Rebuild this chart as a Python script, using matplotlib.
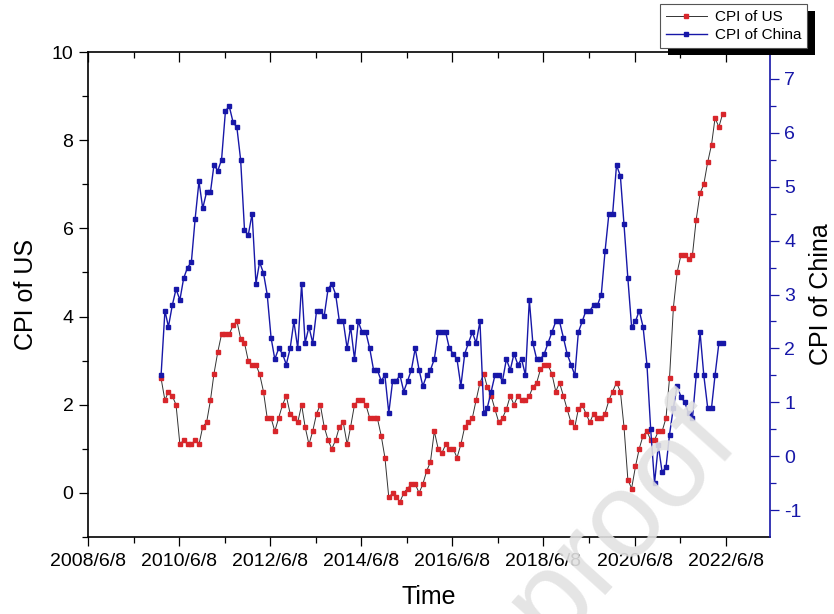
"""CPI of US vs CPI of China (monthly YoY, %), dual y axes. Saves out.png."""

import matplotlib
matplotlib.use("Agg")
import matplotlib.pyplot as plt  # noqa: E402
import pandas as pd  # noqa: E402
from matplotlib.patches import Rectangle  # noqa: E402

RED, BLUE = "#d8262b", "#1717a8"
plt.rcParams.update({"font.family": ["Liberation Sans", "DejaVu Sans"], "font.size": 14})

START, END = "2010-01-01", "2022-05-01"  # monthly, Jan 2010 .. May 2022

cpi_us = [
    2.6, 2.1, 2.3, 2.2, 2.0, 1.1, 1.2, 1.1, 1.1, 1.2, 1.1, 1.5,
    1.6, 2.1, 2.7, 3.2, 3.6, 3.6, 3.6, 3.8, 3.9, 3.5, 3.4, 3.0,
    2.9, 2.9, 2.7, 2.3, 1.7, 1.7, 1.4, 1.7, 2.0, 2.2, 1.8, 1.7,
    1.6, 2.0, 1.5, 1.1, 1.4, 1.8, 2.0, 1.5, 1.2, 1.0, 1.2, 1.5,
    1.6, 1.1, 1.5, 2.0, 2.1, 2.1, 2.0, 1.7, 1.7, 1.7, 1.3, 0.8,
    -0.1, 0.0, -0.1, -0.2, 0.0, 0.1, 0.2, 0.2, 0.0, 0.2, 0.5, 0.7,
    1.4, 1.0, 0.9, 1.1, 1.0, 1.0, 0.8, 1.1, 1.5, 1.6, 1.7, 2.1,
    2.5, 2.7, 2.4, 2.2, 1.9, 1.6, 1.7, 1.9, 2.2, 2.0, 2.2, 2.1,
    2.1, 2.2, 2.4, 2.5, 2.8, 2.9, 2.9, 2.7, 2.3, 2.5, 2.2, 1.9,
    1.6, 1.5, 1.9, 2.0, 1.8, 1.6, 1.8, 1.7, 1.7, 1.8, 2.1, 2.3,
    2.5, 2.3, 1.5, 0.3, 0.1, 0.6, 1.0, 1.3, 1.4, 1.2, 1.2, 1.4,
    1.4, 1.7, 2.6, 4.2, 5.0, 5.4, 5.4, 5.3, 5.4, 6.2, 6.8, 7.0,
    7.5, 7.9, 8.5, 8.3, 8.6,
]
cpi_china = [
    1.5, 2.7, 2.4, 2.8, 3.1, 2.9, 3.3, 3.5, 3.6, 4.4, 5.1, 4.6,
    4.9, 4.9, 5.4, 5.3, 5.5, 6.4, 6.5, 6.2, 6.1, 5.5, 4.2, 4.1,
    4.5, 3.2, 3.6, 3.4, 3.0, 2.2, 1.8, 2.0, 1.9, 1.7, 2.0, 2.5,
    2.0, 3.2, 2.1, 2.4, 2.1, 2.7, 2.7, 2.6, 3.1, 3.2, 3.0, 2.5,
    2.5, 2.0, 2.4, 1.8, 2.5, 2.3, 2.3, 2.0, 1.6, 1.6, 1.4, 1.5,
    0.8, 1.4, 1.4, 1.5, 1.2, 1.4, 1.6, 2.0, 1.6, 1.3, 1.5, 1.6,
    1.8, 2.3, 2.3, 2.3, 2.0, 1.9, 1.8, 1.3, 1.9, 2.1, 2.3, 2.1,
    2.5, 0.8, 0.9, 1.2, 1.5, 1.5, 1.4, 1.8, 1.6, 1.9, 1.7, 1.8,
    1.5, 2.9, 2.1, 1.8, 1.8, 1.9, 2.1, 2.3, 2.5, 2.5, 2.2, 1.9,
    1.7, 1.5, 2.3, 2.5, 2.7, 2.7, 2.8, 2.8, 3.0, 3.8, 4.5, 4.5,
    5.4, 5.2, 4.3, 3.3, 2.4, 2.5, 2.7, 2.4, 1.7, 0.5, -0.5, 0.2,
    -0.3, -0.2, 0.4, 0.9, 1.3, 1.1, 1.0, 0.8, 0.7, 1.5, 2.3, 1.5,
    0.9, 0.9, 1.5, 2.1, 2.1,
]

x_labels = ["2008/6/8", "2010/6/8", "2012/6/8", "2014/6/8",
            "2016/6/8", "2018/6/8", "2020/6/8", "2022/6/8"]
x_minor = ["2009/6/8", "2011/6/8", "2013/6/8", "2015/6/8",
           "2017/6/8", "2019/6/8", "2021/6/8"]
us_ticks = [0, 2, 4, 6, 8, 10]
china_ticks = [-1, 0, 1, 2, 3, 4, 5, 6, 7]


def main():
    dates = pd.date_range(START, END, freq="MS") + pd.Timedelta(days=14)
    major = pd.to_datetime(x_labels, format="%Y/%m/%d")
    minor = pd.to_datetime(x_minor, format="%Y/%m/%d")

    fig = plt.figure(figsize=(8.34, 6.14), dpi=100)
    ax = fig.add_axes([0.1055, 0.1254, 0.8175, 0.7899])
    ax2 = ax.twinx()

    l1, = ax.plot(dates, cpi_us, color="#333333", lw=0.7, marker="s", ms=3.3,
                  mfc=RED, mec=RED, label="CPI of US")
    l2, = ax2.plot(dates, cpi_china, color=BLUE, lw=1.0, marker="s", ms=3.3,
                   mfc=BLUE, mec=BLUE, label="CPI of China")

    ax.set_xlim(pd.Timestamp("2008-06-08"), pd.Timestamp("2023-05-28"))
    ax.set_ylim(-1, 10)
    ax2.set_ylim(-1.5, 7.5)

    ax.set_xticks(major, x_labels)
    ax.set_xticks(minor, minor=True)
    ax.set_yticks(us_ticks)
    ax.set_yticks([-1, 1, 3, 5, 7, 9], minor=True)
    ax2.set_yticks(china_ticks, [str(t) for t in china_ticks])
    ax2.set_yticks([t + 0.5 for t in china_ticks[:-1]], minor=True)

    for a in (ax, ax2):
        for s in a.spines.values():
            s.set_linewidth(1.2)
    ax.spines["right"].set_visible(False)
    for s in ("left", "top", "bottom"):
        ax2.spines[s].set_visible(False)
    ax2.spines["right"].set_color(BLUE)

    ax.tick_params(which="major", length=6.5, width=0.9, pad=4, labelsize=14)
    ax.tick_params(which="minor", length=4, width=0.9)
    ax.tick_params(axis="x", which="major", pad=5)
    ax2.tick_params(axis="y", which="major", length=6.5, width=0.9, pad=4,
                    colors=BLUE, labelsize=14)
    ax2.tick_params(axis="y", which="minor", length=4, width=0.9, colors=BLUE)
    # mirrored ticks along the top edge, pointing inward
    ax2.xaxis.set_visible(True)
    ax2.tick_params(axis="x", which="both", bottom=False, top=True,
                    labelbottom=False, labeltop=False, direction="in", width=0.9)
    ax2.tick_params(axis="x", which="major", length=7)
    ax2.tick_params(axis="x", which="minor", length=4)

    ax.set_xlabel("Time", fontsize=18, labelpad=11)
    ax.set_ylabel("CPI of US", fontsize=18, labelpad=10)
    ax2.set_ylabel("CPI of China", fontsize=18, labelpad=5)

    leg = fig.legend(handles=[l1, l2], loc="upper right",
                     bbox_to_anchor=(0.968, 0.9935), borderaxespad=0,
                     fontsize=11, fancybox=False, edgecolor="#555555",
                     framealpha=1, handlelength=2.7, handletextpad=0.5,
                     borderpad=0.4, labelspacing=0.25, markerscale=0.8)
    leg.get_frame().set_linewidth(0.8)
    fig.canvas.draw()
    bb = leg.get_window_extent()
    # hard black drop shadow behind the legend box
    fig.patches.append(Rectangle((bb.x0 + 8, bb.y0 - 7), bb.width, bb.height,
                                 transform=None, facecolor="black",
                                 edgecolor="none", zorder=leg.get_zorder() - 0.5))

    # "Journal Pre-proof" watermark from the source page
    fig.text(741 / 834, 1 - 444 / 614, "Journal Pre-proof", fontsize=88,
             color="#e2e2e2", alpha=0.9, rotation=48, rotation_mode="anchor",
             ha="right", va="baseline", zorder=20)

    fig.savefig("out.png", dpi=100)
    plt.close(fig)


if __name__ == "__main__":
    main()
